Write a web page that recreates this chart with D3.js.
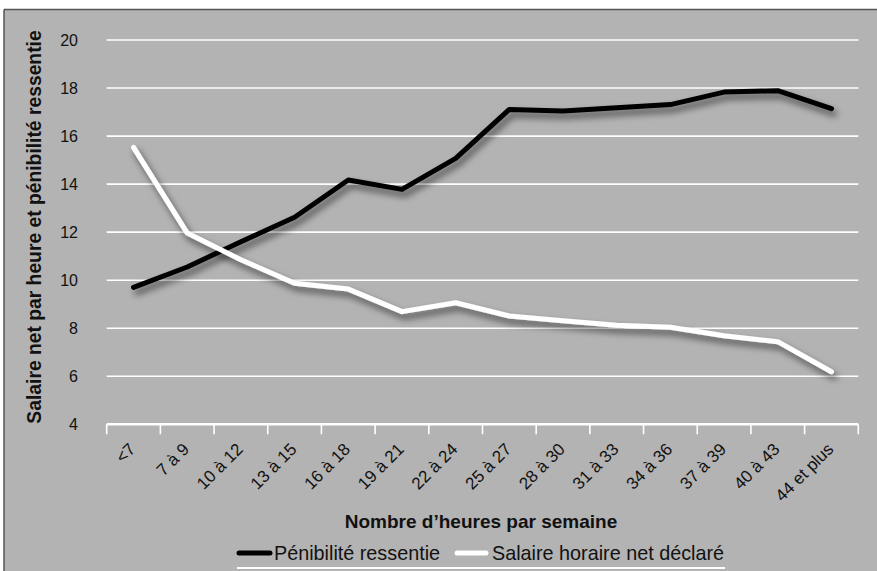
<!DOCTYPE html>
<html><head><meta charset="utf-8">
<script src="https://cdn.jsdelivr.net/npm/d3@7"></script>
<style>html,body{margin:0;padding:0;background:#fff;}svg{display:block;}</style>
</head><body>
<script>
const categories = ["<7","7 à 9","10 à 12","13 à 15","16 à 18","19 à 21","22 à 24","25 à 27","28 à 30","31 à 33","34 à 36","37 à 39","40 à 43","44 et plus"];
const penibilite = [9.70,10.55,11.6,12.62,14.17,13.78,15.07,17.11,17.04,17.18,17.31,17.83,17.89,17.14];
const salaire = [15.53,11.96,10.85,9.87,9.63,8.69,9.06,8.51,8.31,8.12,8.04,7.69,7.44,6.19];
const yTicks = [4,6,8,10,12,14,16,18,20];
const seriesNames = ["Pénibilité ressentie","Salaire horaire net déclaré"];

const W=877,H=571;
const svg=d3.select("body").append("svg").attr("width",W).attr("height",H);
const font="'Liberation Sans',Arial,sans-serif";

const defs=svg.append("defs");
const f=defs.append("filter").attr("id","sh").attr("x","-10%").attr("y","-20%").attr("width","130%").attr("height","160%");
f.append("feDropShadow").attr("dx",3).attr("dy",5).attr("stdDeviation",3.5).attr("flood-color","#000").attr("flood-opacity",0.6);

// background panel
svg.append("rect").attr("x",4).attr("y",9.5).attr("width",W).attr("height",H).attr("fill","#b3b3b3");
svg.append("line").attr("x1",4).attr("x2",W).attr("y1",9.5).attr("y2",9.5).attr("stroke","#555").attr("stroke-width",1.5);
svg.append("line").attr("x1",4).attr("x2",4).attr("y1",9.5).attr("y2",H).attr("stroke","#555").attr("stroke-width",1.5);

const x=d3.scaleBand().domain(categories).range([106.7,858.3]).padding(0);
const y=d3.scaleLinear().domain([4,20]).range([424.3,40]);
const cx=d=>x(d)+x.bandwidth()/2;

// gridlines
svg.append("g").selectAll("line").data(yTicks.filter(t=>t>4)).join("line")
  .attr("x1",106.7).attr("x2",858.3).attr("y1",d=>y(d)).attr("y2",d=>y(d))
  .attr("stroke","#fff").attr("stroke-width",1.6);

// y axis labels
const ya=svg.append("g").attr("transform","translate(92,0)").call(d3.axisLeft(y).tickValues(yTicks).tickSize(0).tickPadding(14));
ya.select(".domain").remove();
ya.selectAll("text").attr("font-family",font).attr("font-size",16).attr("fill","#111");

// x axis
const xa=svg.append("g").attr("transform",`translate(0,${y(4)})`).call(d3.axisBottom(x).tickSize(9).tickFormat(""));
xa.select(".domain").attr("stroke","#fff").attr("stroke-width",2.5).attr("d","M106.7,0H858.3");
xa.selectAll(".tick line").remove();
const edges=d3.range(categories.length+1).map(i=>106.7+i*x.bandwidth());
xa.selectAll("line.edge").data(edges).join("line").attr("class","edge")
  .attr("x1",d=>d).attr("x2",d=>d).attr("y1",0).attr("y2",10).attr("stroke","#fff").attr("stroke-width",1.6);
svg.append("g").selectAll("text").data(categories).join("text")
  .attr("transform",d=>`translate(${cx(d)+3},${y(4)+26}) rotate(-45)`)
  .attr("text-anchor","end").attr("font-family",font).attr("font-size",17).attr("fill","#111").text(d=>d);

// lines
const line=d3.line().x((d,i)=>cx(categories[i])).y(d=>y(d));
svg.append("path").datum(penibilite).attr("d",line).attr("fill","none").attr("stroke","#000").attr("stroke-width",5).attr("stroke-linejoin","round").attr("stroke-linecap","round").attr("filter","url(#sh)");
svg.append("path").datum(salaire).attr("d",line).attr("fill","none").attr("stroke","#fff").attr("stroke-width",5).attr("stroke-linejoin","round").attr("stroke-linecap","round").attr("filter","url(#sh)");

// axis titles
svg.append("text").attr("x",481).attr("y",528).attr("text-anchor","middle").attr("font-family",font)
  .attr("font-weight","bold").attr("font-size",19).attr("fill","#111").text("Nombre d’heures par semaine");
svg.append("text").attr("transform","translate(41,227) rotate(-90)").attr("text-anchor","middle").attr("font-family",font)
  .attr("font-weight","bold").attr("font-size",19.3).attr("fill","#111").text("Salaire net par heure et pénibilité ressentie");

// legend
const lg=svg.append("g");
lg.append("line").attr("x1",239).attr("x2",270).attr("y1",553).attr("y2",553).attr("stroke","#000").attr("stroke-width",5).attr("stroke-linecap","round");
lg.append("text").attr("x",274).attr("y",560).attr("font-family",font).attr("font-size",19.8).attr("fill","#111").text(seriesNames[0]);
lg.append("line").attr("x1",457).attr("x2",486).attr("y1",553).attr("y2",553).attr("stroke","#fff").attr("stroke-width",5).attr("stroke-linecap","round");
lg.append("text").attr("x",492).attr("y",560).attr("font-family",font).attr("font-size",19.8).attr("fill","#111").text(seriesNames[1]);
lg.append("line").attr("x1",237).attr("x2",725).attr("y1",568).attr("y2",568).attr("stroke","#fff").attr("stroke-width",2);
</script>
</body></html>
